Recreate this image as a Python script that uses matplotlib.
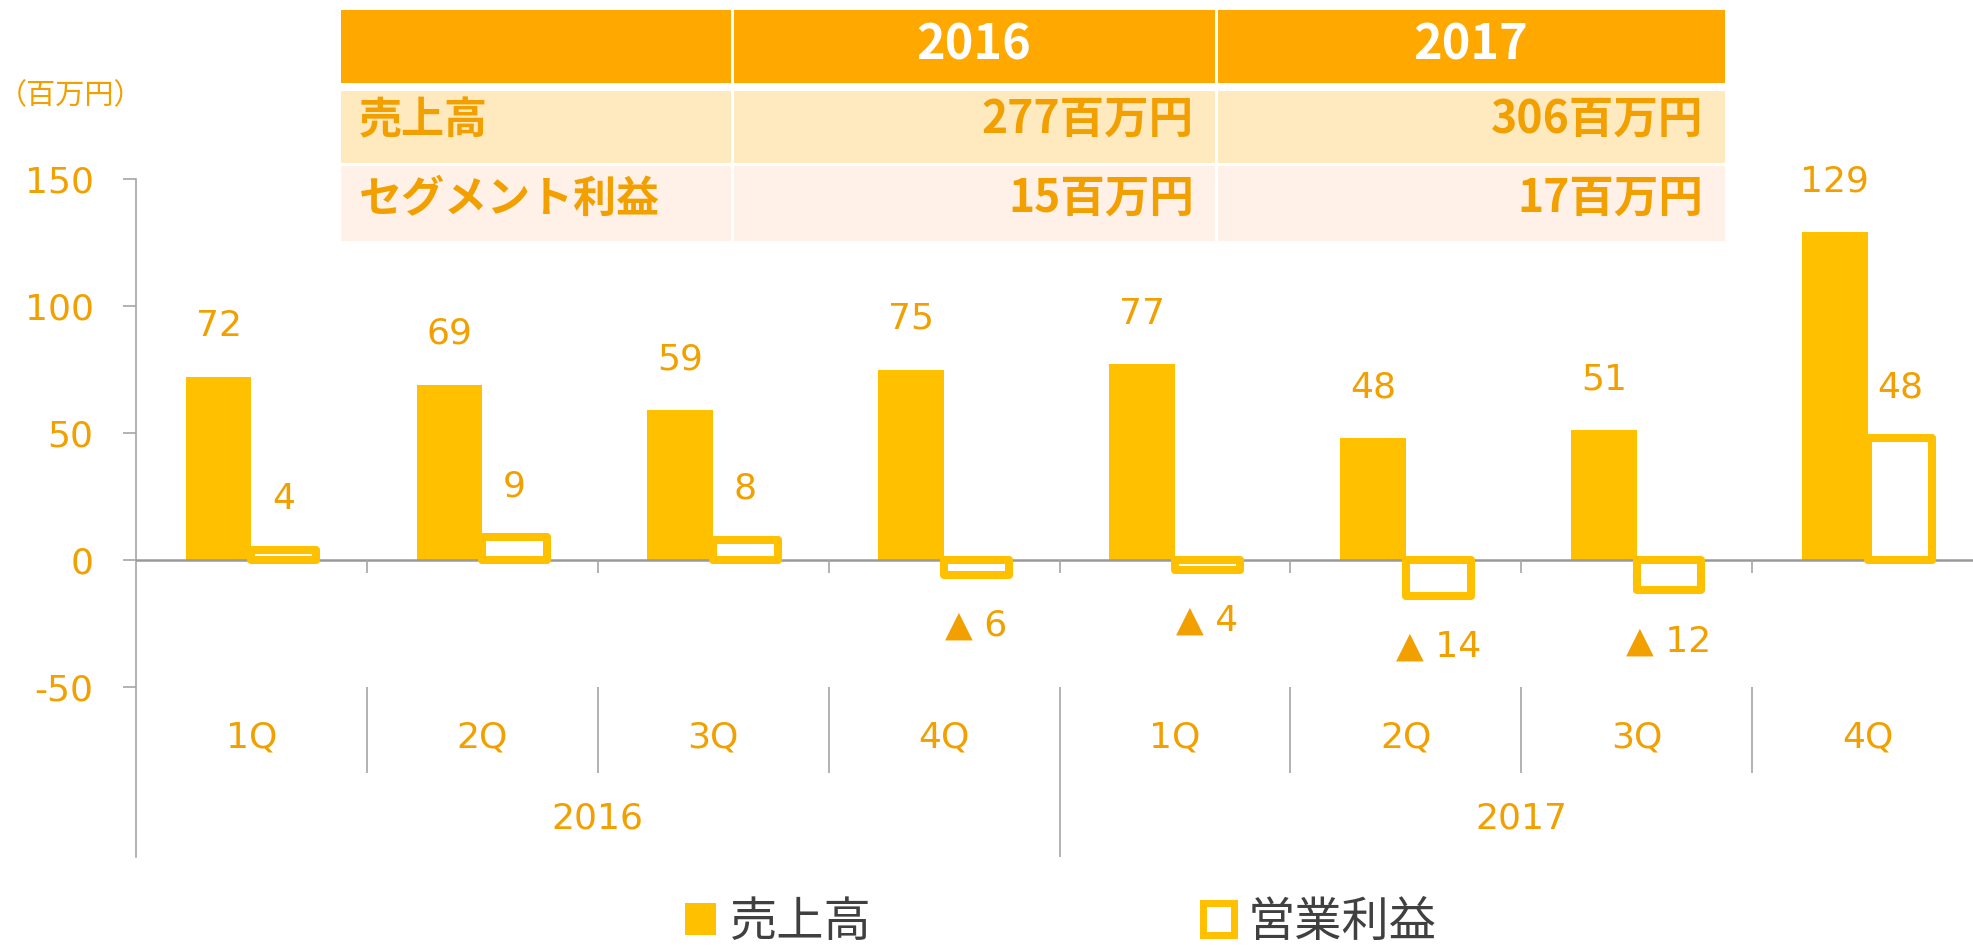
import matplotlib.pyplot as plt
from matplotlib.patches import Patch, Rectangle

plt.rcParams['font.family'] = ['DejaVu Sans', 'Noto Sans CJK JP']

# データ
quarters = ['1Q', '2Q', '3Q', '4Q', '1Q', '2Q', '3Q', '4Q']
years = ['2016', '2017']
sales = [72, 69, 59, 75, 77, 48, 51, 129]
profit = [4, 9, 8, -6, -4, -14, -12, 48]
table_cols = ['2016', '2017']
table_rows = ['売上高', 'セグメント利益']
table_vals = [['277百万円', '306百万円'], ['15百万円', '17百万円']]

bar_c = '#FFC000'
text_c = '#F2A000'
grid_c = '#A6A6A6'
fs = 26

fig = plt.figure(figsize=(19.74, 9.49), dpi=100)
ax = fig.add_axes([0.0689, 0.0969, 0.9357, 0.7144])

x = list(range(len(sales)))
ax.bar([i - 0.285 for i in x], sales, width=0.285, align='edge',
       color=bar_c, zorder=2)
pb = ax.bar(x, profit, width=0.28, align='edge', facecolor='white',
            edgecolor=bar_c, linewidth=5.8, zorder=4)
for p in pb:
    p.set_joinstyle('round')

ax.axhline(0, color='#999999', lw=1.8, zorder=3)

for i, v in enumerate(sales):
    ax.text(i - 0.1425, v + 20, str(v), ha='center', va='center',
            fontsize=fs, color=text_c)
for i, v in enumerate(profit):
    if v >= 0:
        ax.text(i + 0.14, v + 20, str(v), ha='center', va='center',
                fontsize=fs, color=text_c)
    else:
        ax.text(i + 0.14, v - 20, '▲ ' + str(-v), ha='center', va='center',
                fontsize=fs, color=text_c)

ax.set_xlim(-0.5, 7.5)
ax.set_ylim(-117, 150)
ax.set_yticks([-50, 0, 50, 100, 150])
ax.set_yticklabels(['-50', '0', '50', '100', '150'])
ax.tick_params(axis='y', colors=grid_c, labelcolor=text_c, labelsize=fs,
               length=9.5, width=1.2, pad=21)
ax.set_xticks([])
for s in ['top', 'right', 'bottom']:
    ax.spines[s].set_visible(False)
ax.spines['left'].set_color(grid_c)
ax.spines['left'].set_linewidth(1.2)

# 区切り線
ax.vlines([i + 0.5 for i in range(7)], 0, -5.2, color=grid_c, lw=1.2, zorder=3)
ax.vlines([0.5, 1.5, 2.5, 4.5, 5.5, 6.5], -50, -84, color=grid_c, lw=1.2)
ax.vlines([3.5], -50, -117, color=grid_c, lw=1.2)

for i, q in enumerate(quarters):
    ax.text(i, -70, q, ha='center', va='center', fontsize=fs, color=text_c)
for k, y in enumerate(years):
    ax.text(1.5 + 4 * k, -102, y, ha='center', va='center', fontsize=fs,
            color=text_c)

# 表
tx = fig.add_axes([0, 0, 1, 1], zorder=5)
tx.set_xlim(0, 1974)
tx.set_ylim(949, 0)
tx.axis('off')

col_edges = [341, 732, 1216, 1725]
row_spans = [(10, 83), (91, 163), (166, 241)]
row_bg = ['#FFA800', '#FFE9BF', '#FFF1E8']
for r, (y0, y1) in enumerate(row_spans):
    for c in range(3):
        xa = col_edges[c] + (1.5 if c > 0 else 0)
        xb = col_edges[c + 1] - (1.5 if c < 2 else 0)
        tx.add_patch(Rectangle((xa, y0), xb - xa, y1 - y0, facecolor=row_bg[r],
                               edgecolor='none'))

tfont = ['Noto Sans CJK JP', 'DejaVu Sans']
for c, name in enumerate(table_cols):
    tx.text((col_edges[c + 1] + col_edges[c + 2]) / 2, 45, name, ha='center',
            va='center', fontsize=35, fontweight='bold', color='white',
            family=tfont)
text_y = [120, 199]
for r, name in enumerate(table_rows):
    tx.text(359, text_y[r], name, ha='left', va='center', fontsize=31,
            fontweight='bold', color=text_c, family=tfont)
    for c in range(2):
        tx.text(col_edges[c + 2] - 22, text_y[r], table_vals[r][c], ha='right',
                va='center', fontsize=32, fontweight='bold', color=text_c,
                family=tfont)

tx.text(-2, 96, '（百万円）', ha='left', va='center', fontsize=21, color=text_c,
        family=tfont)

handles = [Patch(facecolor=bar_c, edgecolor='none'),
           Patch(facecolor='white', edgecolor=bar_c, linewidth=5)]
leg = fig.legend(handles, ['売上高', '営業利益'], loc='center',
                 bbox_to_anchor=(0.5375, 0.028), ncol=2, frameon=False,
                 handlelength=0.66, handleheight=0.66,
                 handletextpad=0.3, columnspacing=7.0,
                 prop={'family': tfont, 'size': 34})
for t in leg.get_texts():
    t.set_color('#404040')

fig.savefig('out.png', dpi=100)
